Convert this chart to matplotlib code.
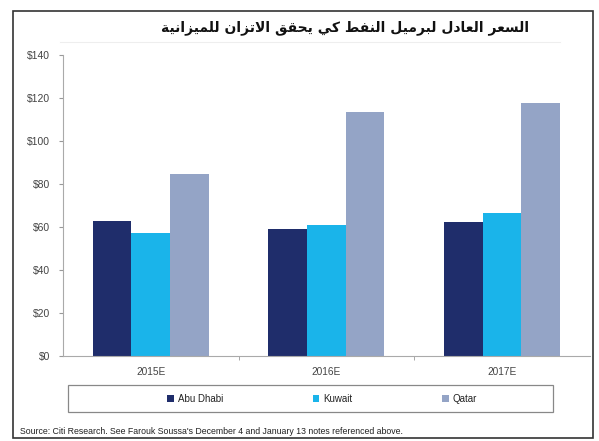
import numpy as np
import matplotlib
matplotlib.use("Agg")
import matplotlib.pyplot as plt
from matplotlib.patches import Rectangle
from matplotlib.lines import Line2D

plt.rcParams["font.family"] = ["Liberation Sans", "DejaVu Sans"]

years = ["2015E", "2016E", "2017E"]
countries = ["Abu Dhabi", "Kuwait", "Qatar"]
abu_dhabi = [63, 59, 62.5]
kuwait = [57, 61, 66.5]
qatar = [84.5, 113.5, 117.5]
colors = ["#1f2d6b", "#1ab4ea", "#94a4c6"]
yticks = [0, 20, 40, 60, 80, 100, 120, 140]

title = "السعر العادل لبرميل النفط كي يحقق الاتزان للميزانية"
source = ("Source: Citi Research. See Farouk Soussa's December 4 and "
          "January 13 notes referenced above.")

# presentation forms: isolated, final, initial, medial
FORMS = {
    "ا": (0xFE8D, 0xFE8E, None, None),
    "ب": (0xFE8F, 0xFE90, 0xFE91, 0xFE92),
    "ة": (0xFE93, 0xFE94, None, None),
    "ت": (0xFE95, 0xFE96, 0xFE97, 0xFE98),
    "ح": (0xFEA1, 0xFEA2, 0xFEA3, 0xFEA4),
    "د": (0xFEA9, 0xFEAA, None, None),
    "ر": (0xFEAD, 0xFEAE, None, None),
    "ز": (0xFEAF, 0xFEB0, None, None),
    "س": (0xFEB1, 0xFEB2, 0xFEB3, 0xFEB4),
    "ط": (0xFEC1, 0xFEC2, 0xFEC3, 0xFEC4),
    "ع": (0xFEC9, 0xFECA, 0xFECB, 0xFECC),
    "ف": (0xFED1, 0xFED2, 0xFED3, 0xFED4),
    "ق": (0xFED5, 0xFED6, 0xFED7, 0xFED8),
    "ك": (0xFED9, 0xFEDA, 0xFEDB, 0xFEDC),
    "ل": (0xFEDD, 0xFEDE, 0xFEDF, 0xFEE0),
    "م": (0xFEE1, 0xFEE2, 0xFEE3, 0xFEE4),
    "ن": (0xFEE5, 0xFEE6, 0xFEE7, 0xFEE8),
    "ي": (0xFEF1, 0xFEF2, 0xFEF3, 0xFEF4),
    "لا": (0xFEFB, 0xFEFC, None, None),
}


def shape_word(word):
    """Join arabic letters of one word and return them in visual order."""
    letters = []
    i = 0
    while i < len(word):
        if word[i] == "ل" and i + 1 < len(word) and word[i + 1] == "ا":
            letters.append("لا")
            i += 2
        else:
            letters.append(word[i])
            i += 1
    out = []
    for k, ch in enumerate(letters):
        f = FORMS[ch]
        prev_joins = k > 0 and FORMS[letters[k - 1]][2] is not None
        next_ok = k + 1 < len(letters) and f[2] is not None
        if prev_joins and next_ok:
            code = f[3]
        elif prev_joins:
            code = f[1]
        elif next_ok:
            code = f[2]
        else:
            code = f[0]
        out.append(chr(code))
    return "".join(reversed(out))


def shape_rtl(text):
    return " ".join(shape_word(w) for w in reversed(text.split(" ")))


fig = plt.figure(figsize=(5.99, 4.41), dpi=100)
ax = fig.add_axes([0.105, 0.193, 0.88, 0.682])

x = np.arange(len(years))
w = 0.22
for i, (vals, name) in enumerate(zip([abu_dhabi, kuwait, qatar], countries)):
    ax.bar(x + (i - 1) * w, vals, width=w, color=colors[i], label=name)

ax.set_xlim(-0.5, 2.5)
ax.set_ylim(0, 140)
ax.set_yticks(yticks)
ax.set_yticklabels([f"${v}" for v in yticks])
ax.set_xticks(x)
ax.set_xticklabels(years)
ax.set_xticks([0.5, 1.5], minor=True)
ax.tick_params(axis="x", which="major", length=0, pad=8, labelsize=7.3, colors="#444444")
ax.tick_params(axis="x", which="minor", length=3, color="#999999", direction="out")
ax.tick_params(axis="y", length=3, color="#999999", labelsize=7.5, colors="#444444", pad=6)
for s in ["top", "right"]:
    ax.spines[s].set_visible(False)
for s in ["left", "bottom"]:
    ax.spines[s].set_color("#aaaaaa")

# outer frame
fig.add_artist(Rectangle((13 / 599, 1 - 438 / 441), 580 / 599, 427 / 441,
                         transform=fig.transFigure, fill=False,
                         edgecolor="#333333", linewidth=1.2))
fig.add_artist(Line2D([60 / 599, 560 / 599], [1 - 42 / 441] * 2,
                      transform=fig.transFigure, color="#eeeeee", linewidth=0.8))

fig.text(345 / 599, 1 - 28 / 441, shape_rtl(title), ha="center", va="center",
         fontsize=10, fontweight="bold", family="DejaVu Sans", color="#111111")

# legend box
fig.add_artist(Rectangle((68 / 599, 1 - 412 / 441), 485 / 599, 27 / 441,
                         transform=fig.transFigure, fill=False,
                         edgecolor="#888888", linewidth=0.9))
fig.legend(loc="center", bbox_to_anchor=(322 / 599, 1 - 398.5 / 441), ncol=3,
           frameon=False, fontsize=7, handlelength=0.7, handleheight=0.7,
           handletextpad=0.4, columnspacing=9.2, labelcolor="#222222")

fig.text(20 / 599, 1 - 432 / 441, source, ha="left", va="center",
         fontsize=6.3, color="#222222")

fig.savefig("out.png", dpi=100)
